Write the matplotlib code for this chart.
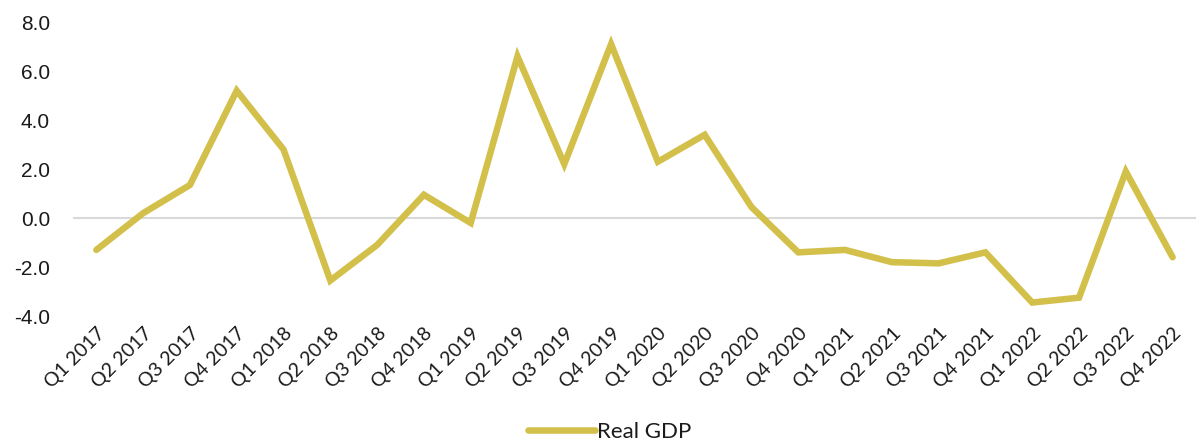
import matplotlib
matplotlib.use("Agg")
import matplotlib.pyplot as plt

quarters = ["Q1 2017", "Q2 2017", "Q3 2017", "Q4 2017",
            "Q1 2018", "Q2 2018", "Q3 2018", "Q4 2018",
            "Q1 2019", "Q2 2019", "Q3 2019", "Q4 2019",
            "Q1 2020", "Q2 2020", "Q3 2020", "Q4 2020",
            "Q1 2021", "Q2 2021", "Q3 2021", "Q4 2021",
            "Q1 2022", "Q2 2022", "Q3 2022", "Q4 2022"]
real_gdp = [-1.3, 0.2, 1.35, 5.2,
            2.8, -2.55, -1.1, 0.95,
            -0.2, 6.6, 2.2, 7.1,
            2.3, 3.4, 0.45, -1.4,
            -1.3, -1.8, -1.85, -1.4,
            -3.45, -3.25, 1.9, -1.6]
y_ticks = [-4.0, -2.0, 0.0, 2.0, 4.0, 6.0, 8.0]

fig = plt.figure(figsize=(11.96, 4.42), dpi=100)
ax = fig.add_axes([0.061, 0.285, 0.939, 0.665])

x = list(range(len(quarters)))
ax.axhline(0, color="#d9d9d9", lw=1.5, zorder=1)
ax.plot(x, real_gdp, color="#D3C04B", lw=4.7, solid_joinstyle="miter",
        solid_capstyle="round", label="Real GDP", zorder=3)

ax.set_xlim(-0.5, len(quarters) - 0.5)
ax.set_ylim(-4, 8)
ax.set_yticks(y_ticks)
ax.set_yticklabels([f"{v:.1f}" for v in y_ticks],
                   fontsize=15, family="Liberation Sans", color="#1a1a1a")
ax.set_xticks(x)
ax.set_xticklabels(quarters, rotation=45, ha="right", rotation_mode="anchor",
                   fontsize=14, family="Lato", color="#1a1a1a")
ax.tick_params(axis="both", length=0)
ax.tick_params(axis="y", pad=16.5)
ax.tick_params(axis="x", pad=6)
for s in ax.spines.values():
    s.set_visible(False)

leg = fig.legend(loc="lower center", bbox_to_anchor=(0.51, -0.045), frameon=False,
                 prop={"family": "Lato", "size": 16}, handlelength=3.0,
                 handletextpad=0.1)
for t in leg.get_texts():
    t.set_color("#1a1a1a")

fig.savefig("out.png", dpi=100)
